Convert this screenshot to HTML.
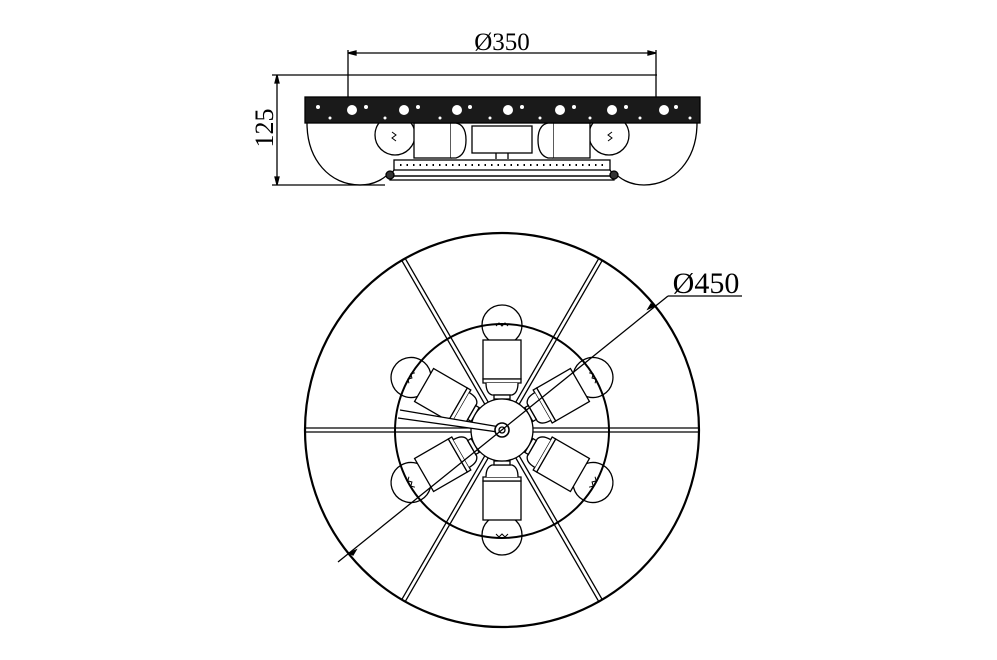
<!DOCTYPE html>
<html><head><style>body{margin:0;background:#fff}svg{display:block}</style></head><body>
<svg width="997" height="660" viewBox="0 0 997 660" xmlns="http://www.w3.org/2000/svg" fill="none" stroke="#000" stroke-width="1.3">
<defs>
<g id="sock">
 <circle cx="0" cy="-105" r="20" fill="#fff"/>
 <path d="M-6,-104 l3,-3 l3,3 l3,-3 l3,3" stroke-width="1"/>
 <rect x="-19" y="-90" width="38" height="39" fill="#fff"/>
 <path d="M-19,-51 h38 v4 h-38 z" fill="#fff"/>
 <path d="M-16,-47 q0,10 6,12 h20 q6,-2 6,-12" fill="#fff"/>
 <rect x="-8" y="-35" width="16" height="4" fill="#fff"/>
</g>
</defs>
<!-- TOP VIEW -->
<line x1="348" y1="53" x2="656" y2="53"/>
<path d="M348,53 l8,-2 v4z M656,53 l-8,-2 v4z" fill="#000"/>
<line x1="348" y1="50" x2="348" y2="98"/>
<line x1="656" y1="50" x2="656" y2="98"/>
<text x="502" y="50" font-family="Liberation Serif, serif" font-size="25" text-anchor="middle" fill="#000" stroke="none">Ø350</text>
<line x1="272" y1="75" x2="657" y2="75"/>
<line x1="272" y1="185" x2="385" y2="185"/>
<line x1="277" y1="75" x2="277" y2="185"/>
<path d="M277,75 l-2,8 h4z M277,185 l-2,-8 h4z" fill="#000"/>
<text transform="translate(273,128) rotate(-90)" font-family="Liberation Serif, serif" font-size="26" text-anchor="middle" fill="#000" stroke="none">125</text>
<path d="M307,123 C307,160 330,185 360,185 C375,185 385,178 390,172"/>
<path d="M697,123 C697,160 674,185 644,185 C629,185 619,178 614,172"/>
<circle cx="395" cy="135" r="20"/>
<circle cx="609" cy="135" r="20"/>
<path d="M392,132 l4,3 l-4,3 l4,3" stroke-width="1"/>
<path d="M612,132 l-4,3 l4,3 l-4,3" stroke-width="1"/>
<rect x="414" y="123" width="37" height="35" fill="#fff"/>
<rect x="553" y="123" width="37" height="35" fill="#fff"/>
<path d="M451,123 h5 q10,2 10,17 q0,15 -10,18 h-5" fill="#fff"/>
<path d="M553,123 h-5 q-10,2 -10,17 q0,15 10,18 h5" fill="#fff"/>
<rect x="472" y="126" width="60" height="27" fill="#fff"/>
<line x1="496" y1="153" x2="496" y2="159"/><line x1="508" y1="153" x2="508" y2="159"/>
<rect x="394" y="160" width="216" height="10" fill="#fff"/>
<line x1="400" y1="165" x2="604" y2="165" stroke-dasharray="1.5 5" stroke-width="2"/>
<path d="M394,170 L390,176 H614 L610,170"/>
<rect x="390" y="176" width="224" height="4"/>
<circle cx="390" cy="175" r="4" fill="#333"/><circle cx="614" cy="175" r="4" fill="#333"/>
<rect x="305" y="97" width="395" height="26" fill="#1a1a1a"/>
<g fill="#fff" stroke="none">
<circle cx="352" cy="110" r="5"/><circle cx="404" cy="110" r="5"/><circle cx="457" cy="110" r="5"/><circle cx="508" cy="110" r="5"/><circle cx="560" cy="110" r="5"/><circle cx="612" cy="110" r="5"/><circle cx="664" cy="110" r="5"/>
<circle cx="318" cy="107" r="2"/><circle cx="366" cy="107" r="2"/><circle cx="418" cy="107" r="2"/><circle cx="470" cy="107" r="2"/><circle cx="522" cy="107" r="2"/><circle cx="574" cy="107" r="2"/><circle cx="626" cy="107" r="2"/><circle cx="676" cy="107" r="2"/>
<circle cx="330" cy="118" r="1.5"/><circle cx="385" cy="118" r="1.5"/><circle cx="440" cy="118" r="1.5"/><circle cx="490" cy="118" r="1.5"/><circle cx="540" cy="118" r="1.5"/><circle cx="590" cy="118" r="1.5"/><circle cx="640" cy="118" r="1.5"/><circle cx="690" cy="118" r="1.5"/>
</g>
<!-- PLAN VIEW -->
<circle cx="502" cy="430" r="197" stroke-width="2.2"/>
<g transform="translate(502 430)">
<use href="#sock"/>
<use href="#sock" transform="rotate(180)"/>
<use href="#sock" transform="rotate(60)"/>
<use href="#sock" transform="rotate(120)"/>
<use href="#sock" transform="rotate(-60)"/>
<use href="#sock" transform="rotate(-120)"/>
</g>
<g>
<line x1="305" y1="428" x2="699" y2="428"/><line x1="305" y1="432" x2="699" y2="432"/>
<g transform="rotate(60 502 430)"><line x1="305" y1="428" x2="699" y2="428"/><line x1="305" y1="432" x2="699" y2="432"/></g>
<g transform="rotate(120 502 430)"><line x1="305" y1="428" x2="699" y2="428"/><line x1="305" y1="432" x2="699" y2="432"/></g>
</g>
<circle cx="502" cy="431" r="107" stroke-width="2"/>
<circle cx="502" cy="430" r="31" fill="#fff"/>
<path d="M400,410 L500,427 L498,432 L398,418" fill="#fff"/>
<circle cx="502" cy="430" r="7" fill="#fff" stroke-width="1.6"/>
<circle cx="502" cy="430" r="3"/>
<line x1="338" y1="562" x2="668" y2="296"/>
<line x1="668" y1="296" x2="742" y2="296"/>
<path d="M655,306 l-7,3 l3,-5z M349,553 l7,-3 l-3,5z" fill="#000"/>
<text x="706" y="293" font-family="Liberation Serif, serif" font-size="30" text-anchor="middle" fill="#000" stroke="none">Ø450</text>
</svg>
</body></html>
